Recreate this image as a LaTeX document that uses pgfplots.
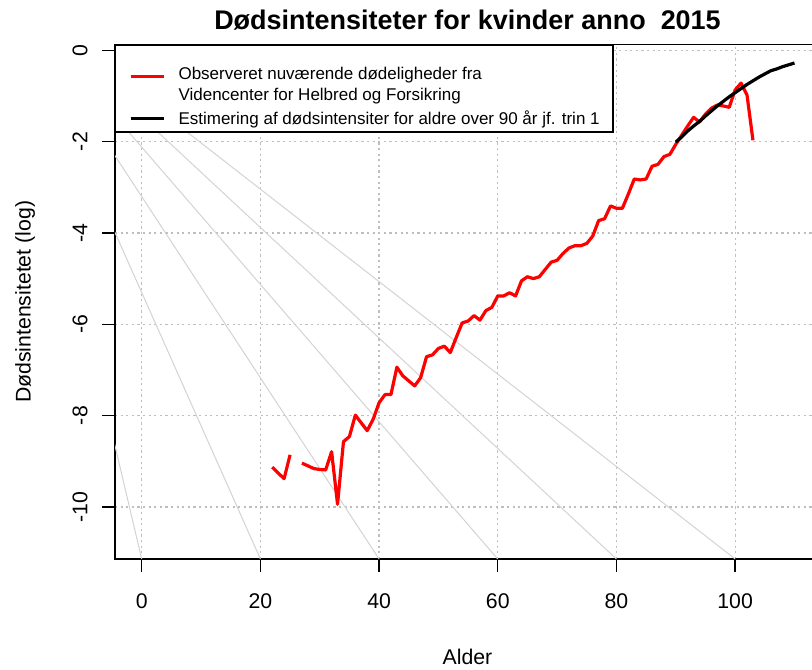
\documentclass[border=0pt]{standalone}
\usepackage{pgfplots}
\pgfplotsset{compat=1.18}
\usepackage{fontspec}
\setmainfont{Liberation Sans}
\definecolor{fangray}{HTML}{D3D3D3}
\definecolor{gridgray}{HTML}{BEBEBE}
\begin{document}
\begin{tikzpicture}
\useasboundingbox (0,0) rectangle (609bp,-502.5bp);
\begin{axis}[
  at={(86.25bp,-419.25bp)}, anchor=south west,
  scale only axis, width=528.75bp, height=385.7bp,
  xmin=-4.5, xmax=114.3, ymin=-11.14, ymax=0.12,
  axis line style={line width=1bp},
  xtick={0,20,40,60,80,100}, ytick={-10,-8,-6,-4,-2,0},
  xticklabels={0,20,40,60,80,100},
  yticklabels={-10,-8,-6,-4,-2,0},
  xtick pos=bottom, ytick pos=left,
  tick align=outside, major tick length=9.5bp,
  every tick/.style={black, line width=1bp},
  tick label style={font=\fontsize{16}{19}\selectfont},
  xticklabel style={anchor=base},
  xticklabel shift=27.25bp,
  yticklabel style={rotate=90, anchor=base},
  yticklabel shift=11.3bp,
  grid=major,
  major grid style={gridgray, line width=0.9bp, dash pattern=on 1.6bp off 2.6bp},
  title={Dødsintensiteter for kvinder anno\ \ 2015},
  title style={font=\fontsize{20.3}{24}\selectfont\bfseries, at={(axis description cs:0.5,1.015)}, anchor=base},
  xlabel={Alder},
  xlabel style={font=\fontsize{16}{19}\selectfont, at={(axis description cs:0.5,-0.2061)}, anchor=base},
  ylabel={Dødsintensitetet (log)},
  ylabel style={font=\fontsize{16}{19}\selectfont, at={(axis description cs:-0.1196,0.5)}, rotate=0, anchor=base},
  legend image code/.code={\draw[#1] (0bp,0bp) -- (24.75bp,0bp);},
  legend cell align=left,
  legend style={at={(axis description cs:0,1)}, anchor=north west, draw=black, line width=1bp, fill=white,
    font=\fontsize{12.8}{15.75}\selectfont, inner xsep=10bp, inner ysep=4.3bp,
    row sep=6bp, column sep=10bp, nodes={inner sep=0pt}},
  unbounded coords=jump,
]
% fan of light grey reference lines
\addplot[fangray, line width=0.75bp, forget plot] coordinates {(-22.5,1.26) (0,-11.14)};
\addplot[fangray, line width=0.75bp, forget plot] coordinates {(-22.5,1.26) (20,-11.14)};
\addplot[fangray, line width=0.75bp, forget plot] coordinates {(-22.5,1.26) (40,-11.14)};
\addplot[fangray, line width=0.75bp, forget plot] coordinates {(-22.5,1.26) (60,-11.14)};
\addplot[fangray, line width=0.75bp, forget plot] coordinates {(-22.5,1.26) (80,-11.14)};
\addplot[fangray, line width=0.75bp, forget plot] coordinates {(-22.5,1.26) (100,-11.14)};
% observed
\addplot[red, line width=2.4bp, line join=round] coordinates {
(22,-9.13) (23,-9.26) (24,-9.38) (25,-8.86) (26,nan)
(27,-9.04) (28,-9.10) (29,-9.16) (30,-9.18) (31,-9.19) (32,-8.79) (33,-9.94) (34,-8.57)
(35,-8.46) (36,-7.99) (37,-8.16) (38,-8.33) (39,-8.08) (40,-7.72) (41,-7.54) (42,-7.54)
(43,-6.94) (44,-7.13) (45,-7.24) (46,-7.35) (47,-7.17) (48,-6.71) (49,-6.67) (50,-6.53)
(51,-6.48) (52,-6.62) (53,-6.29) (54,-5.97) (55,-5.93) (56,-5.81) (57,-5.91) (58,-5.70)
(59,-5.63) (60,-5.38) (61,-5.38) (62,-5.31) (63,-5.38) (64,-5.05) (65,-4.96) (66,-5.00)
(67,-4.96) (68,-4.80) (69,-4.64) (70,-4.60) (71,-4.45) (72,-4.33) (73,-4.28) (74,-4.28)
(75,-4.23) (76,-4.07) (77,-3.73) (78,-3.69) (79,-3.41) (80,-3.46) (81,-3.46) (82,-3.15)
(83,-2.82) (84,-2.84) (85,-2.82) (86,-2.54) (87,-2.50) (88,-2.33) (89,-2.28) (90,-2.06)
(91,-1.86) (92,-1.66) (93,-1.47) (94,-1.57) (95,-1.40) (96,-1.27) (97,-1.20) (98,-1.22)
(99,-1.25) (100,-0.87) (101,-0.72) (102,-0.98) (103,-1.97)
};
\addlegendentry[align=left]{\rule{0pt}{21.4bp}Observeret nuværende dødeligheder fra\\Videncenter for Helbred og Forsikring}
% estimated
\addplot[black, line width=2.4bp, line join=round] coordinates {
(90,-2.01) (91,-1.90) (92,-1.77) (93,-1.66) (94,-1.56) (95,-1.44) (96,-1.33) (97,-1.22)
(98,-1.12) (99,-1.02) (100,-0.93) (101,-0.84) (102,-0.75) (103,-0.67) (104,-0.59)
(105,-0.52) (106,-0.45) (107,-0.41) (108,-0.36) (109,-0.32) (110,-0.28)
};
\addlegendentry{Estimering af dødsintensiter for aldre over 90 år jf. trin 1}
\end{axis}
\end{tikzpicture}
\end{document}
